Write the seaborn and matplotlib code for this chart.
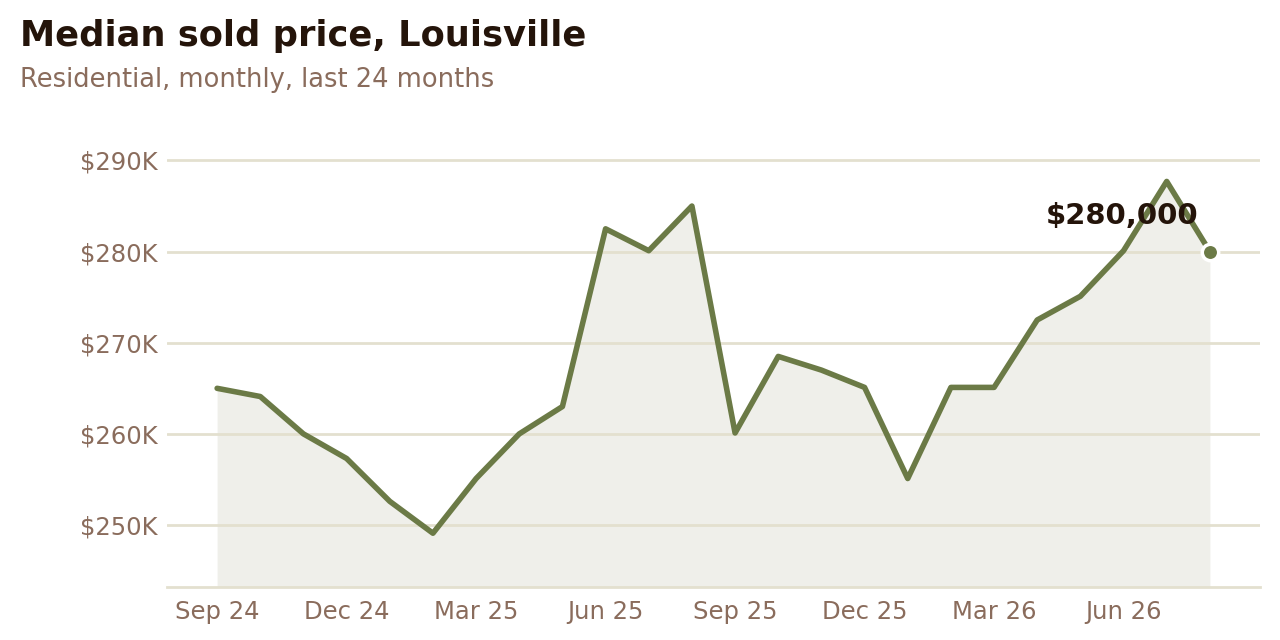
import numpy as np
import pandas as pd
import matplotlib
matplotlib.use("Agg")
import matplotlib.pyplot as plt
import seaborn as sns

# monthly median sold price, Sep 24 .. Aug 26 (in $K)
months = ["Sep 24", "Oct 24", "Nov 24", "Dec 24", "Jan 25", "Feb 25", "Mar 25", "Apr 25",
          "May 25", "Jun 25", "Jul 25", "Aug 25", "Sep 25", "Oct 25", "Nov 25", "Dec 25",
          "Jan 26", "Feb 26", "Mar 26", "Apr 26", "May 26", "Jun 26", "Jul 26", "Aug 26"]
price_k = [265.0, 264.1, 260.0, 257.3, 252.6, 249.1, 255.1, 260.0,
           263.0, 282.5, 280.1, 285.0, 260.1, 268.5, 267.0, 265.1,
           255.1, 265.1, 265.1, 272.5, 275.1, 280.1, 287.7, 280.0]
tick_months = ["Sep 24", "Dec 24", "Mar 25", "Jun 25", "Sep 25", "Dec 25", "Mar 26", "Jun 26"]
y_ticks = [250, 260, 270, 280, 290]
last_label = "$280,000"

LINE = "#6b7a46"
FILL = "#efefea"
GRID = "#e3e0cf"
MUTED = "#8a6c5c"
DARK = "#24140a"

df = pd.DataFrame({"month": months, "price": price_k})
df["i"] = np.arange(len(df))

sns.set_theme(style="white")
plt.rcParams["font.family"] = ["DejaVu Sans"]

fig = plt.figure(figsize=(12.8, 6.4), dpi=100)
ax = fig.add_axes([0.1305, 0.0828, 0.8535, 0.7092])

ymin = 243.2
ax.fill_between(df["i"], df["price"], ymin, color=FILL, lw=0, zorder=1)
for v in y_ticks:
    ax.axhline(v, color=GRID, lw=2, zorder=2)
sns.lineplot(data=df, x="i", y="price", color=LINE, lw=4, ax=ax, zorder=3)

last = df.iloc[-1]
ax.scatter([last["i"]], [last["price"]], s=140, color=LINE, edgecolor="white",
           linewidth=2.5, zorder=4)
ax.annotate(last_label, (last["i"], last["price"]), xytext=(-12, 36),
            textcoords="offset pixels", ha="right", va="center",
            fontsize=21, fontweight="bold", color=DARK, zorder=5)

ax.set_xlim(-1.16, 24.15)
ax.set_ylim(ymin, 293)
ax.set_xticks([months.index(m) for m in tick_months])
ax.set_xticklabels(tick_months)
ax.set_yticks(y_ticks)
ax.set_yticklabels([f"${v}K" for v in y_ticks])
ax.tick_params(axis="both", length=0, labelsize=17.5, labelcolor=MUTED)
ax.tick_params(axis="y", pad=7)
ax.tick_params(axis="x", pad=9)
ax.set_xlabel("")
ax.set_ylabel("")
for s in ["top", "right", "left"]:
    ax.spines[s].set_visible(False)
ax.spines["bottom"].set_color(GRID)
ax.spines["bottom"].set_linewidth(2)

fig.text(20 / 1280, 1 - 36 / 640, "Median sold price, Louisville", fontsize=25.4,
         fontweight="bold", color=DARK, va="center", ha="left")
fig.text(20 / 1280, 1 - 80 / 640, "Residential, monthly, last 24 months", fontsize=18.5,
         color=MUTED, va="center", ha="left")

fig.savefig("out.png", dpi=100, facecolor="white")
